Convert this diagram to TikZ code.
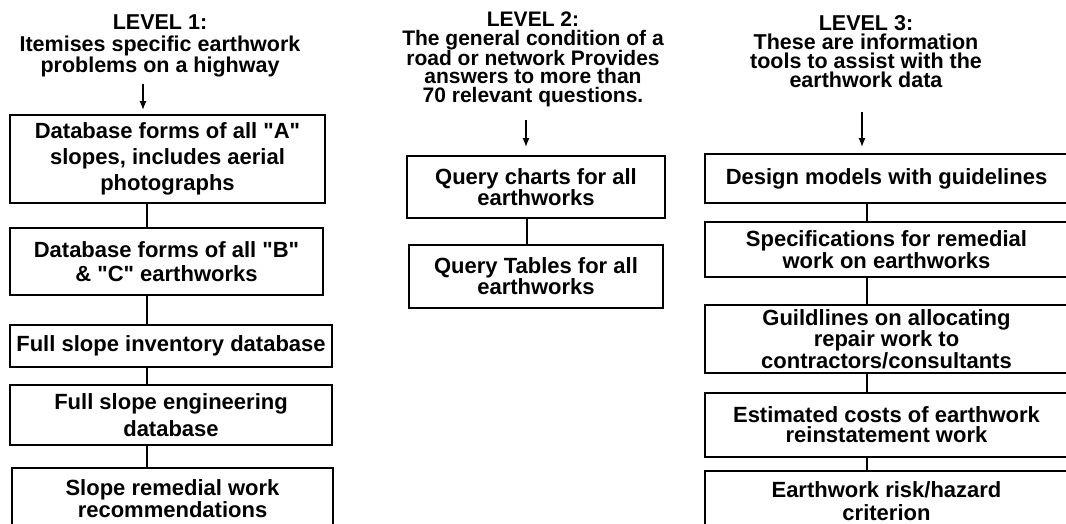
\documentclass[tikz,border=0pt]{standalone}
\usepackage{fontspec}
\setmainfont{Liberation Sans}
\usepackage{tikz}
\usetikzlibrary{arrows.meta, positioning, calc}
\newcommand{\lvlfont}[2]{\fontsize{#1}{#2}\selectfont\bfseries}

\begin{document}
\begin{tikzpicture}[x=1pt, y=-1pt,
  stagebox/.style={draw, line width=1.6pt, align=center, inner sep=0pt, font=\lvlfont{22}{26}},
  leveltext/.style={anchor=north, align=center, inner sep=0pt},
  link/.style={line width=1.8pt},
  feed/.style={line width=1.8pt, -{Latex[length=9pt, width=7pt]}}]
  \useasboundingbox (0,0) rectangle (1066,524);
  \clip (0,0) rectangle (1066,524);

  \node[leveltext, font=\lvlfont{21.5}{21.5}] (hdrA) at (160,15) {LEVEL 1:\\Itemises specific earthwork\\problems on a highway};
  \node[leveltext, font=\lvlfont{21}{18.2}] (hdrB) at (533,12) {LEVEL 2:\\The general condition of a\\road or network Provides\\answers to more than\\70 relevant questions.};
  \node[leveltext, font=\lvlfont{21.5}{19}] (hdrC) at (866,15) {LEVEL 3:\\These are information\\tools to assist with the\\earthwork data};

  \node[stagebox, minimum width=315pt, minimum height=88pt] (dbA) at (167.5,159) {Database forms of all \textquotedbl A\textquotedbl\\slopes, includes aerial\\photographs};
  \node[stagebox, minimum width=313pt, minimum height=67pt, font=\lvlfont{22}{24}] (dbB) at (166.5,261.5) {Database forms of all \textquotedbl B\textquotedbl\\\& \textquotedbl C\textquotedbl\ earthworks};
  \node[stagebox, minimum width=322pt, minimum height=42pt] (inv) at (171,346) {Full slope inventory database};
  \node[stagebox, minimum width=322pt, minimum height=60pt, font=\lvlfont{22}{27}] (eng) at (171,415) {Full slope engineering\\database};
  \node[stagebox, minimum width=321pt, minimum height=62pt, font=\lvlfont{22}{22}] (rem) at (172.5,499) {Slope remedial work\\recommendations};

  \node[stagebox, minimum width=258pt, minimum height=62pt, font=\lvlfont{22}{20}] (qc) at (536,187) {Query charts for all\\earthworks};
  \node[stagebox, minimum width=254pt, minimum height=63pt, font=\lvlfont{22}{21}] (qt) at (536,276.5) {Query Tables for all\\earthworks};

  \node[stagebox, minimum width=363pt, minimum height=49pt] (dm) at (886.5,178.5) {Design models with guidelines};
  \node[stagebox, minimum width=363pt, minimum height=55pt, font=\lvlfont{22}{22}] (sp) at (886.5,249.5) {Specifications for remedial\\work on earthworks};
  \node[stagebox, minimum width=363pt, minimum height=68pt, font=\lvlfont{22}{19}] (gl) at (886.5,339) {Guildlines on allocating\\repair work to\\contractors/consultants};
  \node[stagebox, minimum width=363pt, minimum height=64pt, font=\lvlfont{22}{20}] (ec) at (886.5,425) {Estimated costs of earthwork\\reinstatement work};
  \node[stagebox, minimum width=363pt, minimum height=60pt, font=\lvlfont{22}{23}] (er) at (886.5,501) {Earthwork risk/hazard\\criterion};

  \coordinate (colA) at (147,0);
  \coordinate (colB) at (527,0);
  \coordinate (colC) at (867,0);
  \foreach \a/\b/\c in {dbA/dbB/colA, dbB/inv/colA, inv/eng/colA, eng/rem/colA, qc/qt/colB, dm/sp/colC, sp/gl/colC, gl/ec/colC, ec/er/colC}
    \draw[link] (\c |- \a.south) -- (\c |- \b.north);

  \coordinate (srcA) at (143,84);
  \coordinate (srcB) at (526,120);
  \coordinate (srcC) at (862,112);
  \draw[feed] (srcA) -- ([yshift=4pt]srcA |- dbA.north);
  \draw[feed] (srcB) -- ([yshift=8pt]srcB |- qc.north);
  \draw[feed] (srcC) -- ([yshift=6pt]srcC |- dm.north);
\end{tikzpicture}
\end{document}
